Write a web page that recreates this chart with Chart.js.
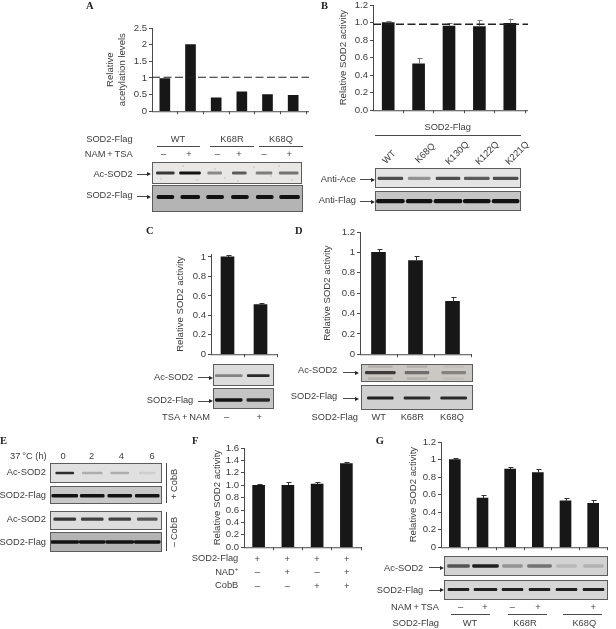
<!DOCTYPE html>
<html><head><meta charset="utf-8">
<script src="https://cdn.jsdelivr.net/npm/chart.js@4"></script>
<style>
html,body{margin:0;padding:0;background:#fff;width:616px;height:629px;overflow:hidden}
#page{position:relative;width:616px;height:629px;filter:blur(.4px);font-family:"Liberation Sans",Arial,sans-serif;color:#3c3c3c}
canvas{position:absolute;display:block}
.t{position:absolute;white-space:nowrap;font-size:9.3px;line-height:12px}
.l{position:absolute;background:#4a4a4a}
.blot{position:absolute;box-sizing:border-box;border:1px solid #5c5c5c;overflow:hidden}
.blot canvas{filter:blur(.65px);left:0;top:0}
.head{position:absolute;width:0;height:0;border-left:4px solid #222;border-top:2px solid transparent;border-bottom:2px solid transparent}
.p{font-family:"Liberation Serif",serif;font-weight:bold;font-size:10.5px;color:#222}
</style></head><body><div id="page"></div>
<script>
// ---------- chart data ----------
const catsA = ["WT -","WT +","K68R -","K68R +","K68Q -","K68Q +"];
const valsA = [0.98,2,0.4,0.58,0.5,0.48];
const catsB = ["WT","K68Q","K130Q","K122Q","K221Q"];
const valsB = [1.0,0.53,0.96,0.955,0.99];
const errsB = [1.015,0.595,0.99,1.03,1.045];
const catsC = ["-","+"];
const valsC = [1.0,0.51];
const errsC = [1.02,0.53];
const catsD = ["WT","K68R","K68Q"];
const valsD = [1.0,0.92,0.52];
const errsD = [1.03,0.965,0.56];
const catsF = ["a","b","c","d"];
const valsF = [1.0,1.0,1.02,1.35];
const errsF = [1.02,1.045,1.045,1.38];
const catsG = ["WT -","WT +","K68R -","K68R +","K68Q -","K68Q +"];
const valsG = [1.0,0.56,0.89,0.85,0.53,0.50];
const errsG = [1.02,0.60,0.92,0.89,0.56,0.54];
const yTitleA = ["Relative","acetylation levels"];
const yTitleSOD = "Relative SOD2 activity";
// ---------- blot band darkness ----------
const darkA1 = [.75,.95,.4,.6,.45,.5], darkA2 = [.95,.95,.95,.95,.95,.95];
const darkB1 = [.65,.35,.65,.6,.65], darkB2 = [.95,.95,.95,.95,.95];
const darkC1 = [.4,.8], darkC2 = [.95,.8];
const darkD1 = [.7,.45,.35], darkD1b = [.12,.12,.05], darkD2 = [.85,.8,.8];
const darkE1 = [.8,.22,.22,.08], darkE2 = [.95,.95,.95,.9], darkE3 = [.75,.7,.7,.6], darkE4 = [.95,.95,.95,.95];
const darkG1 = [.6,.85,.3,.45,.12,.15], darkG2 = [.85,.85,.85,.85,.85,.85];

const page = document.getElementById('page');
const AX = '#4a4a4a', BAR = '#171717';
Chart.defaults.font.family = '"Liberation Sans",Arial,sans-serif';
Chart.defaults.color = '#3c3c3c';
Chart.defaults.devicePixelRatio = 1;

const marks = {
  id:'marks',
  afterDatasetsDraw(c){
    const o = c.options.plugins.marks||{}, ctx=c.ctx, y=c.scales.y, a=c.chartArea;
    ctx.save();
    ctx.strokeStyle = AX; ctx.lineWidth = 1;
    ctx.beginPath(); ctx.moveTo(a.left, a.bottom+.5); ctx.lineTo(o.axisEnd?o.axisEnd:a.right, a.bottom+.5); ctx.stroke();
    if(o.errs){
      const m=c.getDatasetMeta(0);
      ctx.strokeStyle = o.errColor||'#333';
      o.errs.forEach((e,i)=>{
        const x=Math.round(m.data[i].x)+.5, yt=Math.round(y.getPixelForValue(e))+.5, yb=y.getPixelForValue(c.data.datasets[0].data[i]);
        ctx.beginPath(); ctx.moveTo(x,yb); ctx.lineTo(x,yt); ctx.moveTo(x-2,yt); ctx.lineTo(x+3,yt); ctx.stroke();
      });
    }
    if(o.dash!=null){
      const yy=y.getPixelForValue(o.dash);
      ctx.strokeStyle='#222'; ctx.lineWidth=o.dashW||1.1; ctx.setLineDash([8,3.5]);
      ctx.beginPath(); ctx.moveTo(a.left,yy); ctx.lineTo(o.dashEnd,yy); ctx.stroke();
    }
    ctx.restore();
  }
};

function bars(o){
  const cv=document.createElement('canvas');
  const left=Math.round(o.titleX-5.5), top=8, bot=5;
  const W=o.L-left, w=W+(o.R-o.L)+3, h=(o.B-o.T)+top+bot;
  cv.width=w; cv.height=h;
  cv.style.left=left+'px'; cv.style.top=(o.T-top)+'px';
  cv.style.width=w+'px'; cv.style.height=h+'px';
  page.appendChild(cv);
  const n=o.labels.length;
  new Chart(cv,{type:'bar',plugins:[marks],
    data:{labels:o.labels,datasets:[{data:o.vals,backgroundColor:BAR,barThickness:o.barW,borderWidth:0}]},
    options:{responsive:false,animation:false,
      layout:{autoPadding:false,padding:{top:top,right:3,left:0,bottom:0}},
      plugins:{legend:{display:false},tooltip:{enabled:false},
        marks:{errs:o.errs,dash:o.dash,dashEnd:o.dashEnd,dashW:o.dashW,axisEnd:o.axisEnd,errColor:o.errColor}},
      scales:{
        x:{afterFit:s=>{s.height=bot},border:{display:false},
          ticks:{display:false},
          grid:{offset:true,drawOnChartArea:false,drawTicks:true,tickLength:3,tickColor:c=>c.index===n||c.index===0?'rgba(0,0,0,0)':AX}},
        y:{min:0,max:o.max,afterFit:s=>{s.width=W},border:{color:AX},
          grid:{drawOnChartArea:false,tickLength:3,tickColor:AX},
          ticks:{stepSize:o.step,includeBounds:false,autoSkip:false,padding:2,color:'#3c3c3c',font:{size:9.6},
            callback:v=>o.dec?Number(v).toFixed(o.dec):String(Math.round(v*10)/10)},
          title:{display:true,text:o.title,color:'#3c3c3c',padding:0,font:{size:9.6,lineHeight:1.2}}}
      }}});
}

function blot(x,y,w,h,bg,dark,widths,bandY,thick,extra){
  const d=document.createElement('div'); d.className='blot';
  d.style.cssText=`left:${x}px;top:${y}px;width:${w}px;height:${h}px;background:${bg}`;
  page.appendChild(d);
  const cv=document.createElement('canvas');
  const iw=w-2, ih=h-2;
  cv.width=iw; cv.height=ih; cv.style.width=iw+'px'; cv.style.height=ih+'px';
  d.appendChild(cv);
  const lanes=dark.map((_,i)=>String(i));
  const mk=(dk,wd,by,th)=>dk.map((v,i)=>({
      data:lanes.map((_,j)=>j===i?[1-by-th/2/ih,1-by+th/2/ih]:null),
      backgroundColor:`rgba(18,18,18,${Math.min(1,v*1.1)})`,barThickness:wd[i],grouped:false,
      borderWidth:0,borderRadius:Math.min(2,th/2),borderSkipped:false}));
  let ds=mk(dark,widths,bandY,thick*.8);
  (extra||[]).forEach(e=>{ds=ds.concat(mk(e[0],e[1],e[2],e[3]));});
  new Chart(cv,{type:'bar',data:{labels:lanes,datasets:ds},
    options:{responsive:false,animation:false,layout:{autoPadding:false,padding:0},
      plugins:{legend:{display:false},tooltip:{enabled:false}},
      scales:{x:{display:false},y:{display:false,min:0,max:1}}}});
  return d;
}

function t(s,x,y,a,rot,cls,html){
  const e=document.createElement('div'); e.className='t'+(cls?' '+cls:'');
  if(html) e.innerHTML=s; else e.textContent=s;
  const tx=a==='r'?'-100%':a==='c'?'-50%':'0';
  e.style.left=x+'px'; e.style.top=y+'px';
  e.style.transform=`translate(${tx},-50%)`+(rot?` rotate(${rot}deg)`:'');
  page.appendChild(e); return e;
}
function line(x1,y1,x2,y2){
  const e=document.createElement('div'); e.className='l';
  e.style.cssText=`left:${x1}px;top:${y1}px;width:${Math.max(x2-x1,1)}px;height:${Math.max(y2-y1,1)}px`;
  page.appendChild(e);
}
function arrow(x1,x2,y){
  line(x1,y,x2-3,y);
  const h=document.createElement('div'); h.className='head';
  h.style.left=(x2-4)+'px'; h.style.top=(y-1.5)+'px'; page.appendChild(h);
}
const DASH='\u2013', PLUS='+', NAMTSA='NAM\u2009+\u2009TSA';

// ---------- A ----------
t('A',86,6,'l',0,'p');
bars({L:152,R:306,T:28,B:114,titleX:110,title:yTitleA,labels:catsA,vals:valsA,max:2.5,step:.5,barW:10,dash:1.02,dashEnd:298,axisEnd:302});
t('SOD2-Flag',132.7,139,'r'); t(NAMTSA,132.7,154,'r');
t('WT',178,139,'c'); t('K68R',232,139,'c'); t('K68Q',281,139,'c');
line(157,146,200,146); line(210,146,254,146); line(259,146,303,146);
[[163.7,DASH],[189,PLUS],[217.3,DASH],[239,PLUS],[264,DASH],[289.3,PLUS]].forEach(p=>t(p[1],p[0],154,'c'));
t('Ac-SOD2',132.7,173.7,'r'); arrow(137,151,173.5);
t('SOD2-Flag',132.7,194.7,'r'); arrow(137,151,196);
const a1=blot(152,162,150,22,'#e9e7e5',darkA1,[18,21,14,14,16,19],.5,3.2);
a1.style.backgroundImage=[[8,16],[30,3],[44,17],[62,6],[85,18],[101,4],[118,13],[139,17],[126,3],[72,15]]
  .map(p=>`radial-gradient(circle at ${p[0]}px ${p[1]}px,#aaa 0,#bbb .4px,transparent .9px)`).join(',');
blot(152,185,151,27,'#b4b4b4',darkA2,[17,19,17,17,17,20],.44,4);

// ---------- B ----------
t('B',321,6,'l',0,'p');
bars({L:373,R:525,T:5,B:113,titleX:343,title:yTitleSOD,labels:catsB,vals:valsB,errs:errsB,errColor:'#777',max:1.2,step:.2,barW:12,dec:1,dash:.98,dashEnd:523,dashW:1.4,axisEnd:523});
t('SOD2-Flag',447.7,127.3,'c'); line(375,134.5,521,134.5);
[[389,156.7,'WT'],[425.3,152.7,'K68Q'],[456.7,152.7,'K130Q'],[486.7,152.7,'K122Q'],[516.7,152.7,'K221Q']].forEach(p=>t(p[2],p[0],p[1],'c',-45));
t('Anti-Ace',356,179,'r'); arrow(360,375,179);
t('Anti-Flag',356,200.3,'r'); arrow(360,375,201);
blot(375,168,146,20,'#e4e4e4',darkB1,[25,22,24,25,25],.52,3);
blot(375,191,146,20,'#c6c6c6',darkB2,[28,26,28,27,27],.51,4.5);

// ---------- C ----------
t('C',146,231,'l',0,'p');
bars({L:211,R:277,T:254,B:357,titleX:180,title:yTitleSOD,labels:catsC,vals:valsC,errs:errsC,max:1.03,step:.2,barW:13});
t('Ac-SOD2',193.3,377,'r'); arrow(198,213,377);
t('SOD2-Flag',193.3,400.3,'r'); arrow(198,213,400.5);
blot(213,364,61,22,'#dcdcdc',darkC1,[27,22],.53,2.6);
blot(213,388,61,21,'#c4c4c4',darkC2,[27,23],.58,3.6);
t('TSA\u2009+\u2009NAM',210,416.7,'r'); t(DASH,226.7,416.7,'c'); t(PLUS,259.3,416.7,'c');

// ---------- D ----------
t('D',295,231,'l',0,'p');
bars({L:360,R:471,T:232,B:357,titleX:327,title:yTitleSOD,labels:catsD,vals:valsD,errs:errsD,max:1.2,step:.2,barW:14});
t('Ac-SOD2',337.3,370,'r'); arrow(343,359,372);
t('SOD2-Flag',337.3,396,'r'); arrow(343,359,398);
blot(361,364,112,18,'#cbc7c3',darkD1,[30,24,24],.48,3.2,[[darkD1b,[24,20,20],.1,1.5],[darkD1b,[24,20,20],.85,1.5]]);
blot(361,385,112,25,'#d0d0d0',darkD2,[26,26,26],.52,3);
t('SOD2-Flag',358,416.7,'r'); t('WT',378.7,416.7,'c'); t('K68R',412.3,416.7,'c'); t('K68Q',452,416.7,'c');

// ---------- E ----------
t('E',0,441,'l',0,'p');
t('37\u2009\u00b0C (h)',46.7,455.5,'r');
[[63,'0'],[91.7,'2'],[121.3,'4'],[152,'6']].forEach(p=>t(p[1],p[0],456,'c'));
t('Ac-SOD2',46,471.7,'r'); t('SOD2-Flag',46,495,'r'); t('Ac-SOD2',46,519.3,'r'); t('SOD2-Flag',46,542.3,'r');
blot(50,463,112,20,'#e0e0e0',darkE1,[18,20,18,16],.5,2.6);
blot(50,486,112,18,'#c8c8c8',darkE2,[26,24,24,24],.55,3.6);
blot(50,511,112,19,'#dddddd',darkE3,[22,22,22,20],.42,3);
blot(50,532,112,20,'#b4b4b4',darkE4,[28,26,28,26],.5,3.6);
line(166,463,166,503); line(166,512,166,551);
t('+\u2009CobB',174,484,'c',-90); t(DASH+'\u2009CobB',174,531.7,'c',-90);

// ---------- F ----------
t('F',192,441,'l',0,'p');
bars({L:244,R:361,T:448,B:550,titleX:217,title:yTitleSOD,labels:catsF,vals:valsF,errs:errsF,max:1.6,step:.2,barW:12,dec:1});
t('SOD2-Flag',238.3,558.3,'r'); t('NAD<sup style="font-size:6px;line-height:0">+</sup>',238.3,572.3,'r',0,'',true); t('CobB',238.3,585.3,'r');
const xF=[257.3,287.3,317,346.7];
[PLUS,PLUS,PLUS,PLUS].forEach((s,i)=>t(s,xF[i],558.5,'c'));
[DASH,PLUS,DASH,PLUS].forEach((s,i)=>t(s,xF[i],571.5,'c'));
[DASH,DASH,PLUS,PLUS].forEach((s,i)=>t(s,xF[i],585.5,'c'));

// ---------- G ----------
t('G',375.7,441,'l',0,'p');
bars({L:441,R:607,T:442,B:550,titleX:413,title:yTitleSOD,labels:catsG,vals:valsG,errs:errsG,max:1.2,step:.2,barW:11});
t('Ac-SOD2',423.3,567.7,'r'); arrow(429,444,567);
t('SOD2-Flag',423.3,589.7,'r'); arrow(429,444,589.5);
blot(444,555.5,164,20.5,'#d2d2d2',darkG1,[22,26,20,24,20,20],.5,3.4);
blot(444,580,164,20,'#d6d6d6',darkG2,[21,23,21,21,21,21],.47,3);
t(NAMTSA,439,606.7,'r');
[[460.7,DASH],[485,PLUS],[512.3,DASH],[538,PLUS],[593.3,PLUS]].forEach(p=>t(p[1],p[0],606.7,'c'));
line(451,614,490,614); line(508,614,547,614); line(563,614,602,614);
t('SOD2-Flag',439,623,'r'); t('WT',470,623,'c'); t('K68R',525,623,'c'); t('K68Q',584.3,623,'c');
</script></body></html>
